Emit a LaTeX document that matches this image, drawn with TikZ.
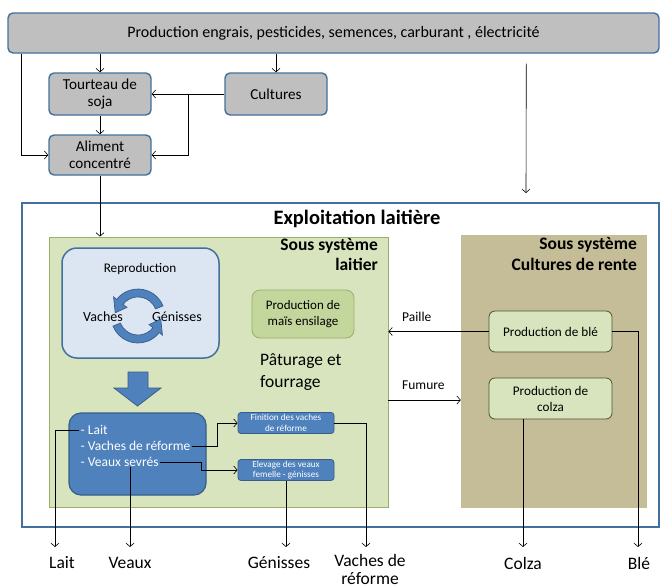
\documentclass[tikz,border=0pt]{standalone}
\usepackage{fontspec}
\setmainfont{Carlito}
\usetikzlibrary{arrows.meta,calc}
\definecolor{bord}{HTML}{41719C}
\definecolor{grayfill}{HTML}{BFBFBF}
\definecolor{greenfill}{HTML}{D7E4BD}
\definecolor{greenbord}{HTML}{98B06A}
\definecolor{maisfill}{HTML}{C3D69B}
\definecolor{tanfill}{HTML}{C4BD97}
\definecolor{reprofill}{HTML}{DCE6F2}
\definecolor{bluefill}{HTML}{4F81BD}
\definecolor{bluebord}{HTML}{385D8A}
\definecolor{darkbord}{HTML}{4A5530}
\begin{document}
\begin{tikzpicture}[x=1pt,y=-1pt,
  arr/.style={-{Straight Barb[length=3.5pt,width=8pt]}, line width=0.6pt},
  fs/.style={font=\fontsize{#1}{\dimexpr #1pt*6/5\relax}\selectfont},
  graybox/.style={draw=bord, line width=1.4pt, fill=grayfill, rounded corners=5pt, align=center, inner sep=0pt},
  cropbox/.style={draw=darkbord, line width=0.8pt, fill=greenfill, rounded corners=6pt, align=center, inner sep=0pt, font=\fontsize{13.2}{16}\selectfont, minimum width=123pt, minimum height=41pt},
  smallblue/.style={draw=bluebord, line width=0.8pt, fill=bluefill, rounded corners=3pt, align=center, inner sep=0pt, text=white, font=\fontsize{9.2}{10.5}\selectfont, minimum width=96pt, minimum height=21pt},
  outlbl/.style={font=\fontsize{17.5}{18}\selectfont, align=center},
  listline/.style={anchor=west, text=white, font=\fontsize{13.5}{16}\selectfont, inner sep=1.5pt},
]
\useasboundingbox (0,0) rectangle (662,587);

% top boxes
\node[graybox, font=\fontsize{16}{19}\selectfont, minimum width=651pt, minimum height=40pt] (top) at (333.5,33) {Production engrais, pesticides, semences, carburant , électricité};
\node[graybox, font=\fontsize{15.2}{17}\selectfont, minimum width=102pt, minimum height=42pt] (tourteau) at (100,94) {Tourteau de\\soja};
\node[graybox, font=\fontsize{15.2}{17}\selectfont, minimum width=102pt, minimum height=42pt] (cultures) at (276,94) {Cultures};
\node[graybox, font=\fontsize{15.2}{17}\selectfont, minimum width=102pt, minimum height=40pt] (aliment) at (100,155) {Aliment\\concentré};

% outer box and subsystems
\node[draw=bord, line width=2pt, minimum width=637pt, minimum height=324pt, inner sep=0pt] (expl) at (340.5,365) {};
\node[font=\bfseries\fontsize{20.5}{23}\selectfont] (expltitle) at (357,219) {Exploitation laitière};
\node[draw=greenbord, line width=0.8pt, fill=greenfill, minimum width=339pt, minimum height=270pt, inner sep=0pt] (laitsys) at (218.5,372) {};
\node[anchor=north east, align=right, font=\bfseries\fontsize{17.5}{20.5}\selectfont, inner sep=0pt] (laittitle) at (378,238) {Sous système\\laitier};
\node[fill=tanfill, minimum width=186pt, minimum height=273pt, inner sep=0pt] (rente) at (554,371.5) {};
\node[anchor=north east, align=right, font=\bfseries\fontsize{17.5}{21.5}\selectfont, inner sep=0pt] (rentetitle) at (637,237) {Sous système\\Cultures de rente};

% reproduction
\node[draw=bord, line width=1.5pt, fill=reprofill, rounded corners=15pt, minimum width=157pt, minimum height=110pt, inner sep=0pt] (repro) at (140.5,303) {};
\node[font=\fontsize{13.2}{16}\selectfont] (reprotitle) at (140,269) {Reproduction};
\node[font=\fontsize{14}{16}\selectfont] (vaches) at (103,317) {Vaches};
\node[font=\fontsize{14}{16}\selectfont] (genisses) at (177,317) {Génisses};
\foreach \r in {0,180}{
  \begin{scope}[shift={(138,316)}, rotate=\r]
    \path[fill=bluefill, draw=bluebord, line width=0.7pt]
      (-158:27pt) arc[start angle=-158, end angle=-38, radius=27pt]
      -- (-38:31pt) -- (-8:23pt) -- (-38:14pt) -- (-38:19pt)
      arc[start angle=-38, end angle=-158, radius=19pt] -- cycle;
  \end{scope}
}
% big arrow
\path[fill=bluefill, draw=bluebord, line width=0.8pt]
  (128,372) -- (148,372) -- (148,388) -- (161,388) -- (137.5,406) -- (114,388) -- (128,388) -- cycle;

% output box
\node[draw=bluebord, line width=1.2pt, fill=bluefill, rounded corners=12pt, minimum width=137pt, minimum height=82pt, inner sep=0pt] (out) at (137.5,454) {};
\node[listline] (l1) at (79,430) {- Lait};
\node[listline] (l2) at (79,446) {- Vaches de réforme};
\node[listline] (l3) at (79,462) {- Veaux sevrés};

\node[smallblue] (fin) at (286,423) {Finition des vaches\\de réforme};
\node[smallblue] (elev) at (286,470) {Elevage des veaux\\femelle - génisses};

% mais, paturage
\node[draw=greenbord, line width=0.8pt, fill=maisfill, rounded corners=8pt, minimum width=102pt, minimum height=48pt, inner sep=0pt, align=center, font=\fontsize{13}{16}\selectfont] (mais) at (303,314) {Production de\\maïs ensilage};
\node[anchor=west, align=left, font=\fontsize{17.5}{22}\selectfont, inner sep=0pt] (patur) at (260,372) {Pâturage et\\fourrage};

% cash crops
\node[cropbox] (ble) at (550.5,331.5) {Production de blé};
\node[cropbox] (colza) at (550.5,398.5) {Production de\\colza};

% labels
\node[font=\fontsize{13.5}{16}\selectfont, anchor=west, inner sep=0pt] (paille) at (402,317) {Paille};
\node[font=\fontsize{13.5}{16}\selectfont, anchor=west, inner sep=0pt] (fumure) at (402,385) {Fumure};

% bottom output labels
\coordinate (endrow) at (0,547);
\node[outlbl] (oLait) at (62,563) {Lait};
\node[outlbl] (oVeaux) at (130,563) {Veaux};
\node[outlbl] (oGen) at (279,563) {Génisses};
\node[outlbl] (oVach) at (370,569) {Vaches de\\réforme};
\node[outlbl] (oColza) at (523,563) {Colza};
\node[outlbl] (oBle) at (639,563) {Blé};

% connectors top
\draw[arr] (top.south -| tourteau.north) -- (tourteau.north);
\draw[arr] (top.south -| cultures.north) -- (cultures.north);
\draw[arr] (tourteau.south) -- (aliment.north);
\draw[arr] (cultures.west) -- (tourteau.east) coordinate[pos=0.5] (br);
\draw[arr] (br) |- (aliment.east);
\coordinate (tl) at ($(top.south west)+(14,0)$);
\draw[arr] (tl) |- (aliment.west);
\draw[arr] (aliment.south) -- (aliment.south |- laitsys.north);
\coordinate (ra) at ($(top.south west)+(519,10)$);
\coordinate (rb) at ($(expl.north west)+(505,-9)$);
\draw[arr] (ra) -- (rb);

% connectors inside
\draw[arr] (ble.west) -- (ble.west -| laitsys.east);
\coordinate (fum) at ($(laitsys.east)+(0,28)$);
\draw[arr] (fum) -- (fum -| rente.west);
\draw[arr] (l2.east) -| ($(fin.west)+(-20,0)$) -- (fin.west);
\draw[arr] (l3.east) -| ($(elev.west)+(-36,0)$) -- (elev.west);

% outputs
\coordinate (eLait) at (55,547);
\draw[arr] (l1.west) -| (eLait);
\coordinate (vx) at ($(l3.west)+(51,5)$);
\draw[arr] (vx) -- (vx |- endrow);
\draw[arr] (elev.south) -- (elev.south |- endrow);
\coordinate (eVach) at (366,547);
\draw[arr] (fin.east) -| (eVach);
\coordinate (cx) at ($(colza.south)+(-27.5,0)$);
\draw[arr] (cx) -- (cx |- endrow);
\coordinate (eBle) at (638,547);
\draw[arr] (ble.east) -| (eBle);
\end{tikzpicture}
\end{document}
